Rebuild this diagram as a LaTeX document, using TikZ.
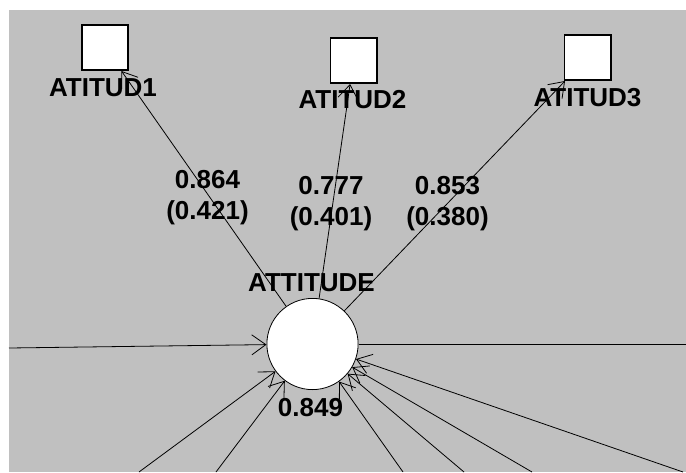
\documentclass[tikz,border=0pt]{standalone}
\usepackage{fontspec}
\setmainfont{Liberation Sans}
\usetikzlibrary{positioning, arrows.meta}
\definecolor{bggrey}{RGB}{192,192,192}
\tikzstyle{ind} = [rectangle, minimum width=46.4pt, minimum height=45.4pt, draw=black, line width=1.6pt, fill=white, inner sep=0pt]
\tikzstyle{lat} = [circle, minimum size=91.2pt, draw=black, line width=0.8pt, fill=white, inner sep=0pt]
\tikzstyle{lab} = [inner sep=0pt, font=\fontsize{26}{31}\selectfont\bfseries]
\tikzstyle{load} = [inner sep=0pt, align=center, font=\fontsize{26}{31}\selectfont\bfseries]
\tikzstyle{arrow} = [-{Straight Barb[length=14pt, width=20pt]}, line width=0.8pt]

\begin{document}
\begin{tikzpicture}[x=1pt, y=-1pt]
	\useasboundingbox (0,0) rectangle (686,472);
	\fill[white] (0,0) rectangle (686,472);
	\fill[bggrey] (9,10) rectangle (686,472);
	% latent variable and its indicators
	\node (att) [lat] at (312.5,344) {};
	\node (A1) [ind] at (105,47.5) {};
	\node (A2) [ind] at (353.5,60.5) {};
	\node (A3) [ind] at (587.5,57.5) {};
	\node (A1lab) [lab, below=7pt of A1, xshift=-2pt] {ATITUD1};
	\node (A2lab) [lab, below=6pt of A2, xshift=-1pt] {ATITUD2};
	\node (A3lab) [lab, below=7pt of A3] {ATITUD3};
	\node (attlab) [lab, above=6pt of att, xshift=-1pt] {ATTITUDE};
	\node (r2) [lab, below=8pt of att, xshift=-2pt] {0.849};
	% loadings
	\draw [arrow](att) -- (A1);
	\draw [arrow](att) -- (A2);
	\draw [arrow](att) -- (A3);
	\node (l1) [load] at (207.5,197.5) {0.864\\(0.421)};
	\node (l2) [load] at (331,203.5) {0.777\\(0.401)};
	\node (l3) [load] at (447.5,203.5) {0.853\\(0.380)};
	% paths in and out of the latent variable
	\coordinate (inL) at (9,348);
	\coordinate (outR) at (686,344);
	\coordinate (b1) at (139,472);
	\coordinate (b2) at (216,472);
	\coordinate (b3) at (403,472);
	\coordinate (b4) at (464,472);
	\coordinate (b5) at (532,472);
	\coordinate (b6) at (683,472);
	\draw [arrow](inL) -- (att);
	\draw [line width=0.8pt](att) -- (outR);
	\foreach \b in {b1,b2,b3,b4,b5,b6}
		\draw [arrow](\b) -- (att);
\end{tikzpicture}
\end{document}
